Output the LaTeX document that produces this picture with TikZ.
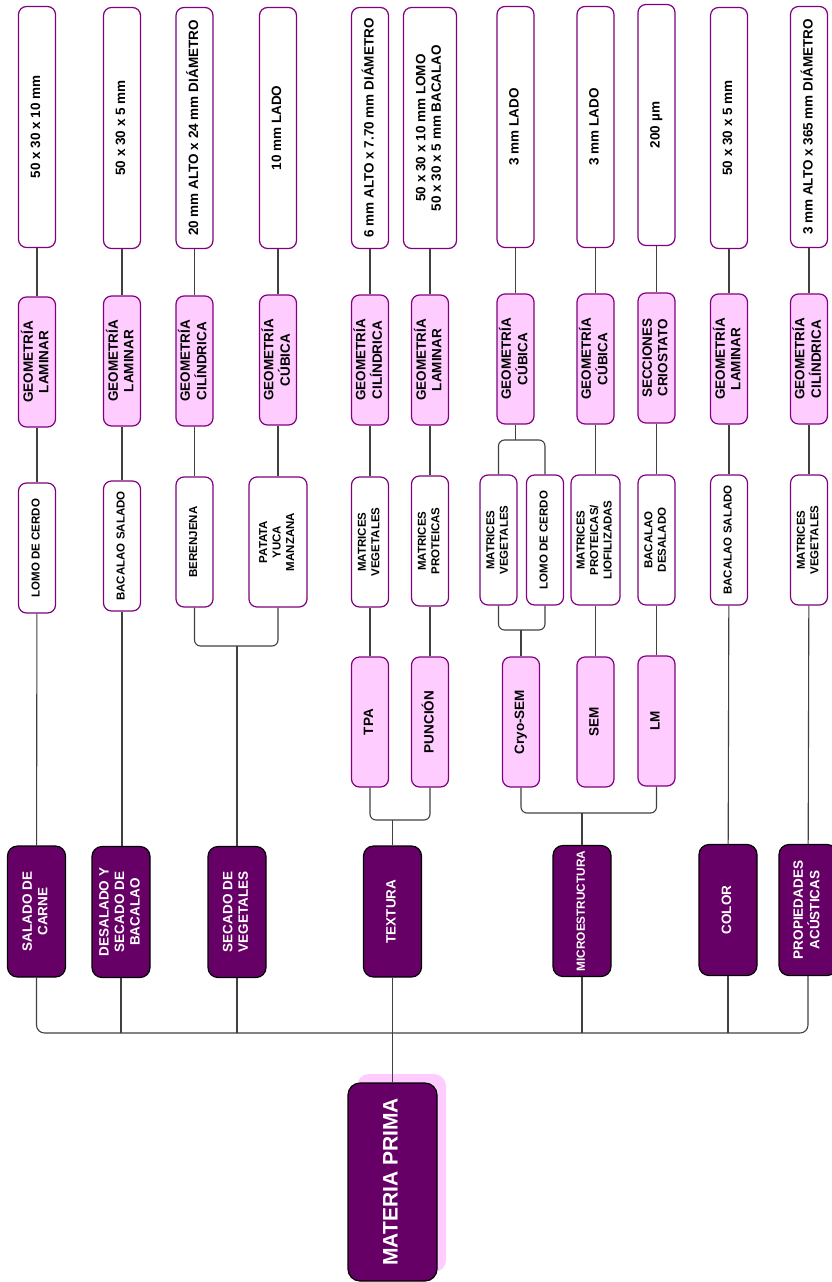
\documentclass[tikz,border=0pt]{standalone}
\usepackage{fontspec}
\setmainfont{Liberation Sans}
\usepackage{graphicx}
\usetikzlibrary{shadows}
\definecolor{morado}{RGB}{102,0,102}
\definecolor{rosa}{RGB}{255,204,255}
\definecolor{borde}{RGB}{128,0,128}
\newcommand{\girado}[1]{\rotatebox{90}{\begin{tabular}{@{}c@{}}#1\end{tabular}}}

\begin{document}
\begin{tikzpicture}[x=1pt,y=-1pt,
        caja/.style={rounded corners=8pt,line width=1.2pt,inner sep=0pt,minimum width=37pt,align=center},
        medida/.style={caja,draw=borde,fill=white,minimum height=241pt,font=\fontsize{13.5}{15.5}\selectfont\bfseries},
        geometria/.style={caja,draw=borde,fill=rosa,minimum height=130pt,font=\fontsize{13.5}{15.5}\selectfont\bfseries},
        muestra/.style={caja,draw=borde,fill=white,minimum height=130pt,font=\fontsize{11.5}{13.5}\selectfont\bfseries},
        tecnica/.style={geometria},
        ensayo/.style={caja,draw=black,fill=morado,text=white,minimum width=58pt,minimum height=131pt,
                       rounded corners=10pt,font=\fontsize{13.5}{15.5}\selectfont\bfseries},
        raiz/.style={caja,draw=black,fill=morado,text=white,minimum width=89pt,minimum height=198pt,
                     rounded corners=12pt,font=\fontsize{21}{25}\selectfont\bfseries,
                     drop shadow={shadow xshift=9pt,shadow yshift=9pt,fill=rosa,opacity=1}},
        linea/.style={draw=black!75,line width=1.1pt}]
      \useasboundingbox (0,0) rectangle (831,1282);
      % medidas de las muestras
      \node[medida] (dimA) at (37,127) {\girado{50 x 30 x 10 mm}};
      \node[medida] (dimB) at (122,128) {\girado{50 x 30 x 5 mm}};
      \node[medida] (dimC) at (194.5,128) {\girado{20 mm ALTO x 24 mm DIÁMETRO}};
      \node[medida] (dimD) at (278,128) {\girado{10 mm LADO}};
      \node[medida] (dimE) at (370,128) {\girado{6 mm ALTO x 7.70 mm DIÁMETRO}};
      \node[medida,minimum width=53pt] (dimF) at (430,128) {\girado{50 x 30 x 10 mm LOMO\\50 x 30 x 5 mm BACALAO}};
      \node[medida] (dimG) at (515.5,127) {\girado{3 mm LADO}};
      \node[medida] (dimH) at (595.5,127) {\girado{3 mm LADO}};
      \node[medida] (dimI) at (656.5,125) {\girado{200 µm}};
      \node[medida] (dimJ) at (729,128) {\girado{50 x 30 x 5 mm}};
      \node[medida] (dimK) at (809,127) {\girado{3 mm ALTO x 365 mm DIÁMETRO}};
      % geometrias
      \node[geometria] (geoA) at (37,362) {\girado{GEOMETRÍA\\LAMINAR}};
      \node[geometria] (geoB) at (122,361) {\girado{GEOMETRÍA\\LAMINAR}};
      \node[geometria] (geoC) at (194.5,361) {\girado{GEOMETRÍA\\CILÍNDRICA}};
      \node[geometria] (geoD) at (278,360) {\girado{GEOMETRÍA\\CÚBICA}};
      \node[geometria] (geoE) at (370,360) {\girado{GEOMETRÍA\\CILÍNDRICA}};
      \node[geometria] (geoF) at (430,360) {\girado{GEOMETRÍA\\LAMINAR}};
      \node[geometria] (geoG) at (515.5,359) {\girado{GEOMETRÍA\\CÚBICA}};
      \node[geometria] (geoH) at (595.5,359) {\girado{GEOMETRÍA\\CÚBICA}};
      \node[geometria] (geoI) at (656.5,358) {\girado{SECCIONES\\CRIOSTATO}};
      \node[geometria] (geoJ) at (729,359) {\girado{GEOMETRÍA\\LAMINAR}};
      \node[geometria] (geoK) at (809,359) {\girado{GEOMETRÍA\\CILÍNDRICA}};
      % muestras
      \node[muestra] (lomoA) at (37,548) {\girado{LOMO DE CERDO}};
      \node[muestra] (bacaA) at (122,546) {\girado{BACALAO SALADO}};
      \node[muestra] (berenjena) at (194.5,542) {\girado{BERENJENA}};
      \node[muestra,minimum width=58pt] (patata) at (278,542) {\girado{PATATA\\YUCA\\MANZANA}};
      \node[muestra] (vegeA) at (370,542) {\girado{MATRICES\\VEGETALES}};
      \node[muestra] (proteA) at (430,541) {\girado{MATRICES\\PROTEICAS}};
      \node[muestra] (vegeB) at (498.5,540) {\girado{MATRICES\\VEGETALES}};
      \node[muestra] (lomoB) at (545,540) {\girado{LOMO DE CERDO}};
      \node[muestra,minimum width=49pt] (liofil) at (595.5,540) {\girado{MATRICES\\PROTEICAS/\\LIOFILIZADAS}};
      \node[muestra] (desal) at (656.5,540) {\girado{BACALAO\\DESALADO}};
      \node[muestra] (bacaB) at (729,540) {\girado{BACALAO SALADO}};
      \node[muestra] (vegeC) at (809,540) {\girado{MATRICES\\VEGETALES}};
      % tecnicas
      \node[tecnica] (tpa) at (370,722) {\girado{TPA}};
      \node[tecnica] (puncion) at (430,722) {\girado{PUNCIÓN}};
      \node[tecnica] (criosem) at (521,722) {\girado{Cryo-SEM}};
      \node[tecnica] (sem) at (595.5,722) {\girado{SEM}};
      \node[tecnica] (lm) at (656.5,721) {\girado{LM}};
      % ensayos
      \node[ensayo] (salado) at (36.5,911.5) {\girado{SALADO DE\\CARNE}};
      \node[ensayo] (desalado) at (121,912) {\girado{DESALADO Y\\SECADO DE\\BACALAO}};
      \node[ensayo] (secado) at (237,912) {\girado{SECADO DE\\VEGETALES}};
      \node[ensayo] (textura) at (392.5,911.5) {\girado{TEXTURA}};
      \node[ensayo,font=\fontsize{11.8}{14}\selectfont\bfseries] (micro) at (582,911) {\girado{MICROESTRUCTURA}};
      \node[ensayo] (color) at (728,910) {\girado{COLOR}};
      \node[ensayo] (acustica) at (808,910) {\girado{PROPIEDADES\\ACÚSTICAS}};
      \node[raiz] (mp) at (392.5,1182) {\girado{MATERIA PRIMA}};
      % uniones
      \coordinate (bus) at (392.5,1033);
      \coordinate (jsec) at (237,646);
      \coordinate (jtex) at (392.5,820);
      \coordinate (jmic) at (582,813);
      \coordinate (jcry) at (521,630);
      \coordinate (jgeo) at (515.5,440);
      \draw[linea](dimA)--(geoA);\draw[linea](geoA)--(lomoA);\draw[linea](lomoA)--(salado);
      \draw[linea](dimB)--(geoB);\draw[linea](geoB)--(bacaA);\draw[linea](bacaA.south)--(bacaA.south|-desalado.north);
      \draw[linea](dimC)--(geoC);\draw[linea](geoC)--(berenjena);
      \draw[linea](dimD)--(geoD);\draw[linea](geoD)--(patata);
      \draw[linea](dimE)--(geoE);\draw[linea](geoE)--(vegeA);\draw[linea](vegeA)--(tpa);
      \draw[linea](dimF)--(geoF);\draw[linea](geoF)--(proteA);\draw[linea](proteA)--(puncion);
      \draw[linea](dimG)--(geoG);
      \draw[linea](dimH)--(geoH);\draw[linea](geoH)--(liofil);\draw[linea](liofil)--(sem);
      \draw[linea](dimI)--(geoI);\draw[linea](geoI)--(desal);\draw[linea](desal)--(lm);
      \draw[linea](dimJ)--(geoJ);\draw[linea](geoJ)--(bacaB);\draw[linea](bacaB)--(color);
      \draw[linea](dimK)--(geoK);\draw[linea](geoK)--(vegeC);\draw[linea](vegeC)--(acustica);
      \draw[linea,rounded corners=6pt](berenjena.south)|-(jsec)-|(patata.south);\draw[linea](secado.north)--(jsec);
      \draw[linea,rounded corners=6pt](tpa.south)|-(jtex)-|(puncion.south);\draw[linea](textura.north)--(jtex);
      \draw[linea,rounded corners=6pt](criosem.south)|-(jmic)-|(lm.south);\draw[linea](micro.north)--(jmic);
      \draw[linea,rounded corners=6pt](vegeB.south)|-(jcry)-|(lomoB.south);\draw[linea](criosem.north)--(jcry);
      \draw[linea,rounded corners=6pt](vegeB.north)|-(jgeo)-|(lomoB.north);\draw[linea](geoG.south)--(jgeo);
      \draw[linea,rounded corners=8pt](salado.south)|-(bus)-|(acustica.south);
      \draw[linea](desalado.south)--(desalado.south|-bus);\draw[linea](secado.south)--(secado.south|-bus);
      \draw[linea](micro.south)--(micro.south|-bus);\draw[linea](color.south)--(color.south|-bus);
      \draw[linea](mp.north)--(textura.south);
    \end{tikzpicture}
\end{document}
